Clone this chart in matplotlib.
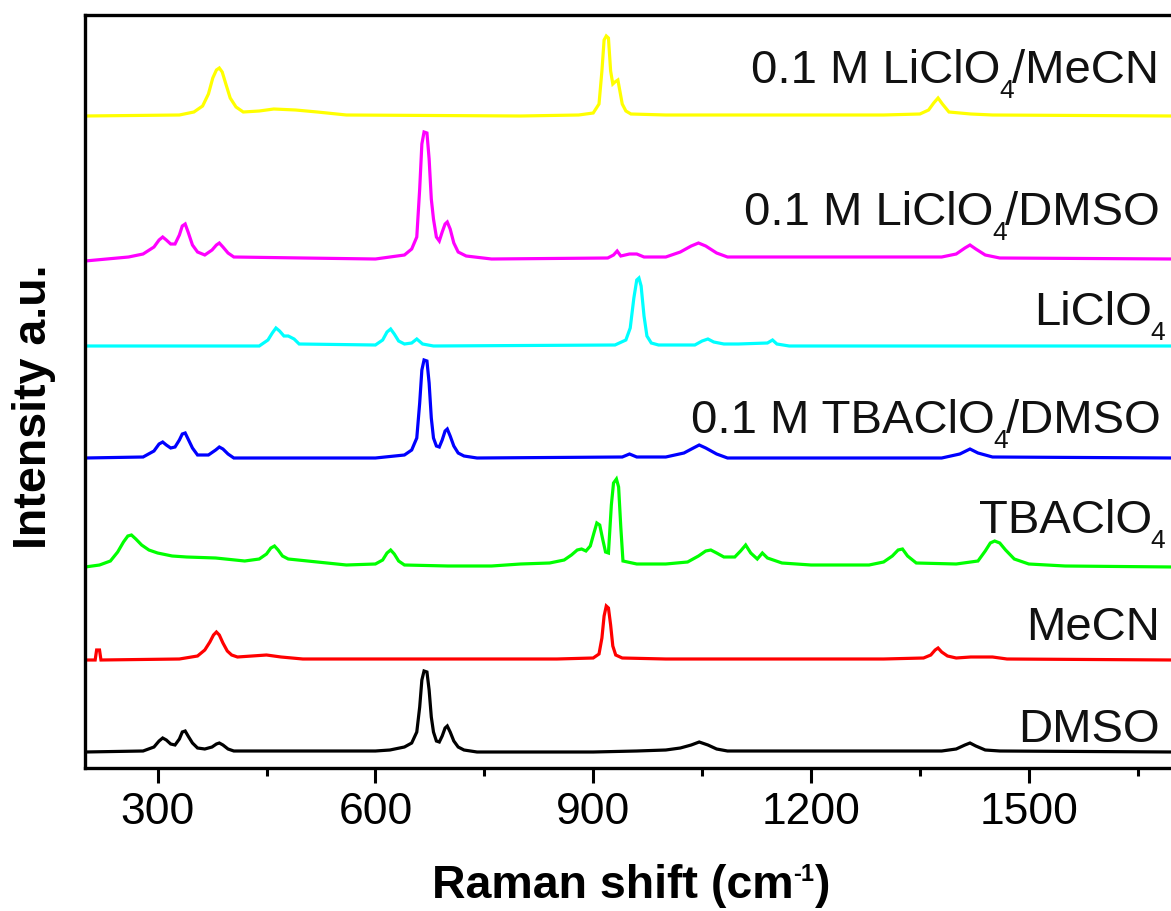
import matplotlib
matplotlib.use("Agg")
import matplotlib.pyplot as plt
from matplotlib.ticker import FixedLocator
from matplotlib.transforms import offset_copy

plt.rcParams['font.family'] = ['Liberation Sans', 'DejaVu Sans']

# ---------------- data (Raman shift in cm-1, intensity in a.u.) ----------------
dmso_x = [200, 280, 295, 302, 307, 312, 318, 324, 330, 334, 338, 342, 348, 355, 365, 375, 381, 385,
          390, 397, 405, 500, 600, 620, 640, 650, 657, 661, 664, 667, 671, 674, 677, 680, 684,
          688, 692, 696, 699, 703, 708, 714, 722, 740, 900, 960, 1000, 1020, 1035, 1046, 1058,
          1070, 1085, 1200, 1300, 1380, 1400, 1412, 1419, 1427, 1440, 1460, 1700]
dmso_y = [0, 1, 5, 11, 14, 12, 8, 7, 13, 20, 21, 16, 9, 4, 3, 5, 8, 9,
          7, 3, 1, 1, 1, 2, 5, 9, 20, 45, 72, 81, 80, 62, 35, 20, 11,
          10, 16, 24, 26, 20, 11, 5, 2, 0, 0, 1, 2, 4, 7, 10, 7,
          3, 1, 1, 1, 1, 3, 7, 9, 6, 2, 1, 0]

mecn_x = [200, 214, 216, 220, 222, 330, 355, 365, 372, 377, 381, 385, 390, 396, 402, 410, 430,
          450, 470, 500, 700, 850, 900, 908, 912, 915, 918, 921, 924, 927, 931, 940, 1000, 1300,
          1355, 1365, 1371, 1375, 1380, 1388, 1400, 1420, 1450, 1470, 1700]
mecn_y = [0, 0, 10, 10, 0, 1, 4, 10, 18, 25, 28, 25, 17, 9, 5, 3, 4,
          5, 3, 1, 1, 1, 2, 6, 22, 44, 54, 52, 35, 14, 5, 2, 1, 1,
          2, 5, 10, 12, 8, 4, 2, 3, 3, 1, 0]

tba_x = [200, 220, 235, 245, 253, 259, 264, 270, 278, 288, 300, 320, 340, 380, 420, 440, 450,
         456, 461, 466, 472, 480, 520, 560, 600, 610, 616, 621, 626, 632, 640, 700, 760, 800,
         840, 860, 870, 878, 884, 890, 896, 901, 905, 909, 913, 917, 921, 925, 928, 932, 935,
         938, 941, 960, 1000, 1030, 1045, 1055, 1062, 1070, 1080, 1095, 1103, 1110, 1117, 1126,
         1133, 1140, 1160, 1200, 1280, 1300, 1312, 1320, 1326, 1333, 1345, 1400, 1430, 1440,
         1447, 1453, 1460, 1468, 1480, 1500, 1550, 1700]
tba_y = [0, 2, 6, 15, 25, 31, 32, 28, 22, 17, 14, 11, 10, 9, 6, 8, 13,
         19, 21, 17, 11, 8, 5, 2, 3, 7, 14, 17, 13, 6, 2, 1, 1, 3,
         4, 7, 12, 17, 18, 16, 21, 34, 44, 42, 28, 15, 14, 62, 84, 88, 80,
         40, 6, 3, 3, 5, 11, 16, 17, 14, 10, 10, 16, 22, 14, 8,
         14, 9, 4, 2, 2, 5, 11, 17, 18, 11, 4, 3, 6, 16,
         24, 26, 24, 17, 8, 3, 1, 0]

tba_dmso_x = [200, 280, 295, 302, 307, 312, 318, 324, 330, 334, 338, 342, 348, 355, 370, 380,
              385, 390, 397, 405, 600, 640, 650, 657, 661, 664, 667, 671, 674, 677, 680, 684,
              688, 692, 696, 699, 703, 708, 714, 722, 740, 940, 950, 960, 1000, 1025, 1038, 1046,
              1055, 1070, 1085, 1380, 1405, 1419, 1430, 1450, 1700]
tba_dmso_y = [0, 1, 7, 14, 16, 13, 10, 11, 18, 24, 25, 19, 10, 3, 3, 8,
              11, 9, 4, 0, 0, 3, 8, 20, 55, 88, 98, 97, 75, 40, 20, 12,
              11, 18, 27, 29, 22, 12, 5, 2, 0, 1, 4, 1, 1, 5, 10, 13,
              10, 4, 0, 0, 4, 9, 5, 1, 0]

liclo4_x = [200, 440, 452, 458, 463, 468, 474, 480, 488, 495, 600, 610, 616, 621, 626, 632,
            640, 650, 657, 665, 680, 930, 945, 951, 956, 960, 963, 966, 970, 974, 980, 990,
            1040, 1050, 1058, 1066, 1080, 1100, 1140, 1147, 1153, 1170, 1700]
liclo4_y = [0, 0, 6, 13, 18, 15, 10, 10, 7, 2, 1, 6, 14, 17, 12, 5,
            2, 3, 7, 2, 0, 1, 6, 18, 48, 66, 68, 60, 30, 10, 3, 1,
            1, 5, 7, 4, 2, 2, 3, 6, 2, 0, 0]

li_dmso_x = [200, 230, 260, 280, 295, 302, 307, 312, 318, 324, 330, 334, 338, 342, 348, 355,
             365, 375, 381, 385, 390, 397, 405, 500, 600, 640, 650, 657, 661, 664, 667, 671,
             674, 677, 680, 684, 688, 692, 696, 699, 703, 708, 714, 725, 760, 920, 928, 933,
             938, 950, 960, 970, 1000, 1020, 1035, 1045, 1055, 1070, 1085, 1380, 1400, 1412,
             1419, 1427, 1440, 1460, 1700]
li_dmso_y = [-2, 0, 2, 5, 12, 19, 22, 19, 15, 15, 24, 33, 35, 27, 14, 7,
             4, 9, 14, 16, 12, 6, 2, 1, 0, 4, 10, 22, 70, 115, 127, 126,
             100, 60, 40, 22, 18, 27, 35, 37, 30, 16, 7, 3, 0, 1, 4, 8,
             3, 5, 5, 2, 2, 7, 13, 16, 13, 6, 2, 2, 5, 11,
             14, 10, 4, 1, 0]

li_mecn_x = [200, 330, 350, 362, 370, 376, 381, 385, 389, 394, 400, 408, 418, 440, 460, 490,
             520, 560, 800, 880, 900, 908, 912, 915, 918, 921, 924, 927, 930, 934, 937, 940,
             945, 952, 1000, 1300, 1350, 1362, 1369, 1375, 1381, 1390, 1420, 1450, 1700]
li_mecn_y = [0, 1, 4, 10, 22, 38, 46, 48, 44, 32, 18, 9, 4, 5, 7, 6,
             4, 1, 0, 1, 3, 12, 45, 76, 80, 78, 45, 32, 34, 36, 24, 12,
             5, 2, 1, 1, 2, 6, 13, 18, 12, 4, 2, 1, 0]

# label text split as (main, subscript, rest)
labels = [('DMSO', '', ''), ('MeCN', '', ''), ('TBAClO', '4', ''),
          ('0.1 M TBAClO', '4', '/DMSO'), ('LiClO', '4', ''),
          ('0.1 M LiClO', '4', '/DMSO'), ('0.1 M LiClO', '4', '/MeCN')]
series_x = [dmso_x, mecn_x, tba_x, tba_dmso_x, liclo4_x, li_dmso_x, li_mecn_x]
series_y = [dmso_y, mecn_y, tba_y, tba_dmso_y, liclo4_y, li_dmso_y, li_mecn_y]

# ---------------- layout / style ----------------
offsets = [16, 108, 201, 310, 422, 509, 652]
colors = ['#000000', '#FF0000', '#00FF00', '#0000FF', '#00FFFF', '#FF00FF', '#FFFF00']
label_x = [1681, 1681, 1688, 1682, 1688, 1681, 1679]
label_y = [26, 128, 235, 335, 443, 543, 685]

FS = 34
SUB_FS = 19
SUB_DROP = 15  # pixels below baseline (bottom of subscript digit)

fig = plt.figure(figsize=(11.71, 9.11), dpi=100)
ax = fig.add_axes([85 / 1171, 143 / 911, 1089 / 1171, 753 / 911])
renderer = fig.canvas.get_renderer()

for xs, ys, off, c in zip(series_x, series_y, offsets, colors):
    ax.plot(xs, [v + off for v in ys], color=c, lw=2.3, solid_joinstyle='miter')

for (main, sub, rest), lx, ly in zip(labels, label_x, label_y):
    dx = 0.0
    if rest:
        t = ax.text(lx, ly, rest, ha='right', va='baseline', fontsize=FS, color='#111111')
        dx += t.get_window_extent(renderer).width - 2
    if sub:
        tr = offset_copy(ax.transData, fig=fig, x=-dx, y=-SUB_DROP, units='dots')
        t = ax.text(lx, ly, sub, ha='right', va='baseline', fontsize=SUB_FS,
                    color='#111111', transform=tr)
        dx += t.get_window_extent(renderer).width - 1
    tr = offset_copy(ax.transData, fig=fig, x=-dx, y=0, units='dots')
    ax.text(lx, ly, main, ha='right', va='baseline', fontsize=FS, color='#111111',
            transform=tr)

ax.set_xlim(200, 1700)
ax.set_ylim(0, 753)
ax.xaxis.set_major_locator(FixedLocator([300, 600, 900, 1200, 1500]))
ax.xaxis.set_minor_locator(FixedLocator([450, 750, 1050, 1350, 1650]))
ax.set_yticks([])
ax.tick_params(axis='x', which='major', direction='out', length=11, width=2.2,
               labelsize=32, pad=6)
ax.tick_params(axis='x', which='minor', direction='out', length=6, width=2.2)
for s in ax.spines.values():
    s.set_linewidth(2.4)

# x label built from pieces: "Raman shift (cm" + superscript "-1" + ")"
xl_fs = 33.5
parts = [('Raman shift (cm', xl_fs, 0), ('-1', 17, 17), (')', xl_fs, 0)]
texts = []
total = 0.0
for s, fs, up in parts:
    t = fig.text(0, 0, s, fontsize=fs, fontweight='bold', ha='left', va='baseline')
    w = t.get_window_extent(renderer).width
    texts.append((t, w, up))
    total += w
x0 = 631 - total / 2
base = 911 - 898
for t, w, up in texts:
    t.set_position((x0 / 1171, (base + up) / 911))
    x0 += w

fig.text(34 / 1171, 1 - 407 / 911, 'Intensity a.u.', ha='center', va='center',
         rotation=90, fontsize=33.5, fontweight='bold')

fig.savefig('out.png', dpi=100)
